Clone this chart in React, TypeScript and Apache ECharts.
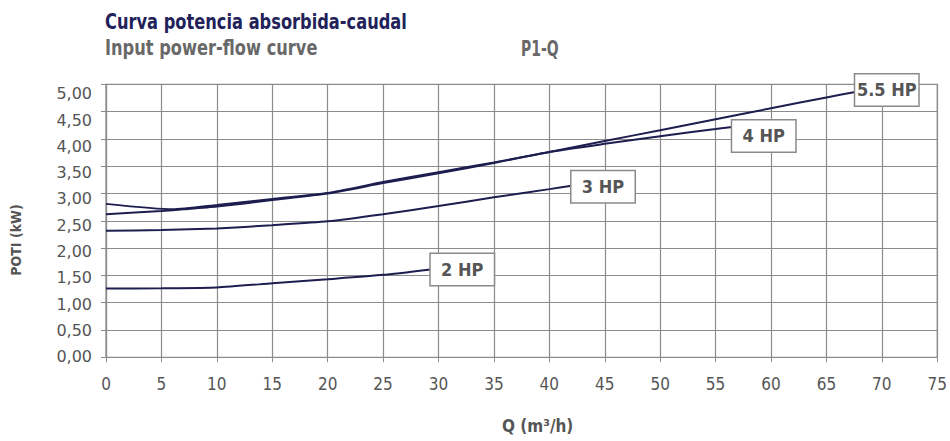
import React, { useEffect, useRef } from "react";
import * as echarts from "echarts";

const COND = "'Liberation Sans Narrow', 'DejaVu Sans Condensed', sans-serif";
const LINE_COLOR = "#1d1d50";
const GRID_COLOR = "#8c8c8c";
const TEXT_GRAY = "#555555";

// flow Q (m3/h) and input power P1 (kW) per motor
const hp2X = [0, 5, 10, 15, 20, 25, 29.3];
const hp2Y = [1.26, 1.265, 1.28, 1.355, 1.43, 1.51, 1.61];

const hp3X = [0, 5, 10, 15, 20, 25, 30, 35, 40, 42];
const hp3Y = [2.32, 2.33, 2.36, 2.42, 2.49, 2.62, 2.77, 2.93, 3.08, 3.14];

const hp4X = [0, 5, 7, 10, 15, 20, 25, 30, 35, 40, 45, 50, 55, 56.5];
const hp4Y = [2.62, 2.68, 2.71, 2.76, 2.88, 3.0, 3.19, 3.37, 3.56, 3.76, 3.91, 4.05, 4.18, 4.22];

const hp55X = [0, 6, 10, 15, 20, 25, 30, 35, 40, 45, 50, 55, 60, 65, 67.6];
const hp55Y = [2.81, 2.71, 2.79, 2.9, 3.01, 3.21, 3.39, 3.57, 3.76, 3.96, 4.16, 4.36, 4.56, 4.76, 4.86];

const seriesNames = ["2 HP", "3 HP", "4 HP", "5.5 HP"];
const labelOffsets = [[0, 0], [0, 1], [0, 9], [0, -2]];

const titleMain = "Curva potencia absorbida-caudal";
const titleSub = "Input power-flow curve";
const titleCode = "P1-Q";
const yName = "POTI (kW)";
const xName = "Q (m³/h)";

const zip = (xs: number[], ys: number[]) => xs.map((x, i) => [x, ys[i]]);

export default function App() {
  const ref = useRef<HTMLDivElement>(null);
  useEffect(() => {
    if (!ref.current) return;
    const chart = echarts.init(ref.current, undefined, { renderer: "svg" });
    const datasets = [zip(hp2X, hp2Y), zip(hp3X, hp3Y), zip(hp4X, hp4Y), zip(hp55X, hp55Y)];
    const series: any[] = datasets.map((d, i) => ({
      type: "line",
      name: seriesNames[i],
      data: d,
      xAxisIndex: 0,
      yAxisIndex: 0,
      showSymbol: false,
      smooth: 0.2,
      lineStyle: { color: LINE_COLOR, width: 2 },
      itemStyle: { color: LINE_COLOR },
      endLabel: {
        show: true,
        distance: 0,
        offset: labelOffsets[i],
        formatter: "{a|" + seriesNames[i] + "}",
        backgroundColor: "#ffffff",
        borderColor: "#8a8a8a",
        borderWidth: 1.5,
        padding: [6, 6],
        rich: {
          a: {
            width: 51,
            height: 19,
            align: "center",
            fontFamily: COND,
            fontWeight: "bold",
            fontSize: 18,
            color: TEXT_GRAY,
          },
        },
      },
      z: 3,
    }));

    const titleText = (text: string, x: number, y: number, fill: string, sx: number) => ({
      type: "text",
      x,
      y,
      scaleX: sx,
      style: {
        text,
        fontFamily: COND,
        fontWeight: "bold",
        fontSize: 21,
        fill,
        align: "left",
        verticalAlign: "middle",
      },
    });

    chart.setOption({
      animation: false,
      backgroundColor: "#ffffff",
      grid: [
        {
          left: 106,
          right: 12.5,
          top: 84.3,
          bottom: 83.7,
          show: true,
          borderColor: GRID_COLOR,
          borderWidth: 1.2,
          containLabel: false,
        },
        {
          left: 106,
          right: 12.5,
          top: 93.8,
          bottom: 84.3,
          show: false,
          containLabel: false,
        },
      ],
      xAxis: [
        {
          type: "value",
          gridIndex: 0,
          min: 0,
          max: 75,
          interval: 5,
          name: xName,
          nameLocation: "middle",
          nameGap: 60,
          nameTextStyle: {
            fontFamily: COND,
            fontWeight: "bold",
            fontSize: 17,
            color: TEXT_GRAY,
            padding: [0, 0, 0, 32],
          },
          axisLine: { show: true, lineStyle: { color: GRID_COLOR, width: 1.2 } },
          axisTick: { show: true, length: 5, lineStyle: { color: GRID_COLOR } },
          axisLabel: { margin: 18, fontFamily: COND, fontSize: 17, color: TEXT_GRAY },
          splitLine: { show: true, lineStyle: { color: GRID_COLOR, width: 1.2 } },
        },
        {
          type: "value",
          gridIndex: 1,
          min: 0,
          max: 75,
          show: false,
        },
      ],
      yAxis: [
        {
          type: "value",
          gridIndex: 0,
          min: 0,
          max: 5,
          interval: 0.5,
          axisLine: { show: true, lineStyle: { color: GRID_COLOR, width: 1.2 } },
          axisTick: { show: true, length: 5, lineStyle: { color: GRID_COLOR } },
          axisLabel: { show: false },
          splitLine: { show: true, lineStyle: { color: GRID_COLOR, width: 1.2 } },
        },
        {
          type: "value",
          gridIndex: 1,
          min: 0,
          max: 5,
          interval: 0.5,
          axisLine: { show: false },
          axisTick: { show: false },
          splitLine: { show: false },
          axisLabel: {
            show: true,
            margin: 14,
            fontFamily: "'DejaVu Sans', sans-serif",
            fontSize: 16,
            color: TEXT_GRAY,
            formatter: (v: number) => v.toFixed(2).replace(".", ","),
          },
        },
      ],
      graphic: [
        titleText(titleMain, 105, 22, "#22225a", 0.86),
        titleText(titleSub, 105, 48.5, "#686868", 0.86),
        titleText(titleCode, 521, 48.5, "#686868", 0.74),
        {
          type: "text",
          x: 16,
          y: 240,
          rotation: Math.PI / 2,
          style: {
            text: yName,
            fontFamily: COND,
            fontWeight: "bold",
            fontSize: 14,
            fill: TEXT_GRAY,
            align: "center",
            verticalAlign: "middle",
          },
        },
      ],
      series,
    });
    return () => chart.dispose();
  }, []);
  return (
    <div
      ref={ref}
      style={{ position: "fixed", left: 0, top: 0, width: 950, height: 441, background: "#fff" }}
    />
  );
}
